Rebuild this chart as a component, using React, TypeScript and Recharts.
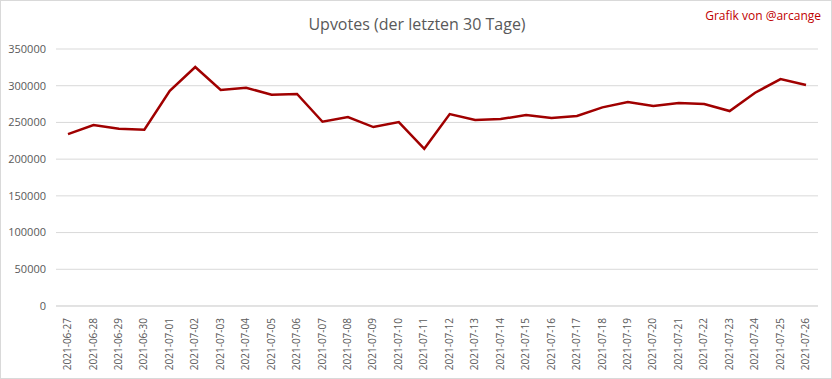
import { LineChart, Line, XAxis, YAxis, CartesianGrid } from 'recharts';

const dates = [
  '2021-06-27', '2021-06-28', '2021-06-29', '2021-06-30', '2021-07-01', '2021-07-02',
  '2021-07-03', '2021-07-04', '2021-07-05', '2021-07-06', '2021-07-07', '2021-07-08',
  '2021-07-09', '2021-07-10', '2021-07-11', '2021-07-12', '2021-07-13', '2021-07-14',
  '2021-07-15', '2021-07-16', '2021-07-17', '2021-07-18', '2021-07-19', '2021-07-20',
  '2021-07-21', '2021-07-22', '2021-07-23', '2021-07-24', '2021-07-25', '2021-07-26',
];

const upvotes = [
  234100, 246400, 241300, 240000, 293100, 325500,
  294100, 297300, 287700, 288700, 250900, 257300,
  243700, 250500, 214100, 261400, 253200, 254600,
  260000, 255900, 258700, 270500, 277700, 272300,
  276400, 275000, 265500, 290400, 309100, 300900,
];

const yTicks = [0, 50000, 100000, 150000, 200000, 250000, 300000, 350000];

const data = dates.map((date, i) => ({ date, upvotes: upvotes[i] }));

const font = '"Open Sans", "Liberation Sans", sans-serif';

export default function App() {
  return (
    <div
      style={{
        position: 'absolute',
        left: 0,
        top: 0,
        width: 832,
        height: 379,
        background: '#fff',
        boxSizing: 'border-box',
        border: '1px solid #d9d9d9',
        fontFamily: font,
      }}
    >
      <div
        style={{
          position: 'absolute',
          top: 12,
          left: 0,
          width: 832,
          textAlign: 'center',
          fontSize: 16,
          color: '#595959',
        }}
      >
        Upvotes (der letzten 30 Tage)
      </div>
      <div
        style={{
          position: 'absolute',
          top: 6,
          right: 10,
          fontSize: 12,
          color: '#c00000',
        }}
      >
        Grafik von @arcange
      </div>
      <div style={{ position: 'absolute', left: -1, top: -1 }}>
        <LineChart
          width={832}
          height={379}
          data={data}
          margin={{ top: 49, right: 14, bottom: 0, left: 0 }}
        >
          <CartesianGrid vertical={false} stroke="#d9d9d9" />
          <XAxis
            dataKey="date"
            interval={0}
            angle={-90}
            textAnchor="end"
            height={73}
            padding={{ left: 12, right: 12 }}
            tickLine={false}
            axisLine={{ stroke: '#d9d9d9' }}
            tick={{ fontSize: 10, fill: '#595959', fontFamily: font, dx: -4 }}
            tickMargin={6}
          />
          <YAxis
            width={56}
            domain={[0, 350000]}
            ticks={yTicks}
            tickLine={false}
            axisLine={false}
            tick={{ fontSize: 11, fill: '#595959', fontFamily: font }}
            tickMargin={4}
          />
          <Line
            type="linear"
            dataKey="upvotes"
            stroke="#a00000"
            strokeWidth={2.5}
            dot={false}
            isAnimationActive={false}
          />
        </LineChart>
      </div>
    </div>
  );
}
